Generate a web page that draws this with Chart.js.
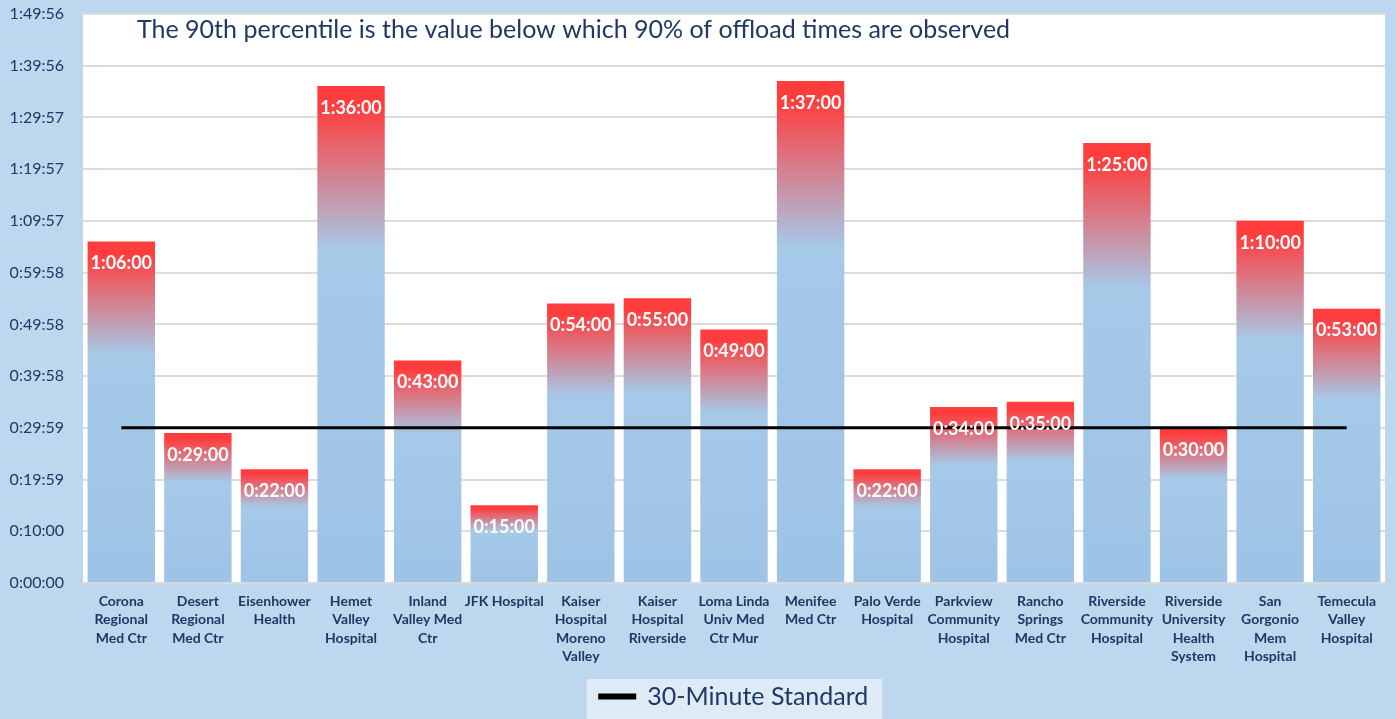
<!DOCTYPE html>
<html>
<head>
<meta charset="utf-8">
<script src="https://cdn.jsdelivr.net/npm/chart.js@4"></script>
<style>
  html, body { margin: 0; padding: 0; background: #BDD7EE; }
  #wrap { width: 1396px; height: 719px; }
</style>
</head>
<body>
<div id="wrap"><canvas id="chart" width="1396" height="719"></canvas></div>
<script>
// Datos
const hospitals = [
  ["Corona", "Regional", "Med Ctr"],
  ["Desert", "Regional", "Med Ctr"],
  ["Eisenhower", "Health"],
  ["Hemet", "Valley", "Hospital"],
  ["Inland", "Valley Med", "Ctr"],
  ["JFK Hospital"],
  ["Kaiser", "Hospital", "Moreno", "Valley"],
  ["Kaiser", "Hospital", "Riverside"],
  ["Loma Linda", "Univ Med", "Ctr Mur"],
  ["Menifee", "Med Ctr"],
  ["Palo Verde", "Hospital"],
  ["Parkview", "Community", "Hospital"],
  ["Rancho", "Springs", "Med Ctr"],
  ["Riverside", "Community", "Hospital"],
  ["Riverside", "University", "Health", "System"],
  ["San", "Gorgonio", "Mem", "Hospital"],
  ["Temecula", "Valley", "Hospital"]
];

// 90th percentile offload time, minutes
const offloadMinutes = [66, 29, 22, 96, 43, 15, 54, 55, 49, 97, 22, 34, 35, 85, 30, 70, 53];

// 30-minute standard
const standardMinutes = [30, 30, 30, 30, 30, 30, 30, 30, 30, 30, 30, 30, 30, 30, 30, 30, 30];

const yTickLabels = ["0:00:00", "0:10:00", "0:19:59", "0:29:59", "0:39:58", "0:49:58",
  "0:59:58", "1:09:57", "1:19:57", "1:29:57", "1:39:56", "1:49:56"];
const yMaxMinutes = 109.933;

const titleText = "The 90th percentile is the value below which 90% of offload times are observed";

// Utilidades
const NAVY = "#1F3864";
const RED = "#FF3D3D";
const BLUE_TOP = "#A6C9E8";
const BLUE_BOTTOM = "#9DC3E6";

const formatTime = (mins) => {
  const h = Math.floor(mins / 60);
  const m = Math.floor(mins % 60);
  const s = Math.round((mins * 60) % 60);
  return `${h}:${String(m).padStart(2, "0")}:${String(s).padStart(2, "0")}`;
};

const barGradient = (ctx) => {
  const chart = ctx.chart;
  if (!chart.chartArea || ctx.type !== "data") return BLUE_TOP;
  const y = chart.scales.y;
  const top = y.getPixelForValue(ctx.raw);
  const base = y.getPixelForValue(0);
  const g = chart.ctx.createLinearGradient(0, top, 0, base);
  g.addColorStop(0, RED);
  g.addColorStop(0.04, RED);
  g.addColorStop(0.33, BLUE_TOP);
  g.addColorStop(1, BLUE_BOTTOM);
  return g;
};

// Plugins
const backgroundPlugin = {
  id: "background",
  beforeDraw(chart) {
    const { ctx, chartArea, width, height } = chart;
    ctx.save();
    ctx.fillStyle = "#BDD7EE";
    ctx.fillRect(0, 0, width, height);
    ctx.fillStyle = "#FFFFFF";
    ctx.fillRect(chartArea.left, chartArea.top, chartArea.right - chartArea.left, chartArea.bottom - chartArea.top);
    const hb = chart.legend.legendHitBoxes[0];
    if (hb) {
      ctx.fillStyle = "#DEEBF7";
      ctx.fillRect(hb.left - 13, chart.legend.top, hb.width + 27, height - chart.legend.top);
    }
    ctx.restore();
  }
};

const labelsPlugin = {
  id: "barLabels",
  afterDraw(chart) {
    const { ctx } = chart;
    const meta = chart.getDatasetMeta(1);
    ctx.save();
    ctx.font = "bold 18px Lato";
    ctx.fillStyle = "#FFFFFF";
    ctx.textAlign = "center";
    ctx.textBaseline = "middle";
    meta.data.forEach((bar, i) => {
      ctx.fillText(formatTime(offloadMinutes[i]), bar.x, bar.y + 22);
    });
    // título dentro del área
    ctx.font = "25px Lato";
    ctx.fillStyle = NAVY;
    ctx.textAlign = "left";
    ctx.fillText(titleText, chart.chartArea.left + 54, chart.chartArea.top + 16);
    ctx.restore();
  }
};

new Chart(document.getElementById("chart"), {
  data: {
    labels: hospitals,
    datasets: [
      {
        type: "line",
        label: "30-Minute Standard",
        data: standardMinutes,
        borderColor: "#000000",
        backgroundColor: "#000000",
        borderWidth: 3,
        pointRadius: 0,
        order: 0
      },
      {
        type: "bar",
        label: "90th Percentile",
        data: offloadMinutes,
        backgroundColor: barGradient,
        barPercentage: 0.88,
        categoryPercentage: 1,
        order: 1
      }
    ]
  },
  options: {
    responsive: false,
    animation: false,
    layout: { padding: { top: 14, right: 11, left: 0, bottom: 0 } },
    plugins: {
      tooltip: { enabled: false },
      legend: {
        position: "bottom",
        fullSize: false,
        labels: {
          filter: (item) => item.datasetIndex === 0,
          boxWidth: 35,
          boxHeight: 3,
          color: NAVY,
          font: { family: "Lato", size: 25 },
          padding: 5
        }
      }
    },
    scales: {
      x: {
        grid: { display: false },
        border: { color: "#D9D9D9", width: 2 },
        ticks: {
          color: NAVY,
          font: { family: "Lato", size: 14, weight: "bold", lineHeight: 1.32 },
          maxRotation: 0,
          autoSkip: false,
          padding: 1
        },
        afterFit: (scale) => { scale.height = 96; scale.paddingLeft = 0; scale.paddingRight = 0; }
      },
      y: {
        min: 0,
        max: yMaxMinutes,
        grid: { color: "#DCDCDC", lineWidth: 2, drawTicks: false },
        border: { display: false },
        ticks: {
          count: 12,
          color: NAVY,
          font: { family: "Lato", size: 16 },
          padding: 19,
          callback: (value, index) => yTickLabels[index]
        },
        afterFit: (scale) => { scale.width = 83; scale.paddingTop = 0; scale.paddingBottom = 0; }
      }
    }
  },
  plugins: [backgroundPlugin, labelsPlugin]
});
</script>
</body>
</html>
